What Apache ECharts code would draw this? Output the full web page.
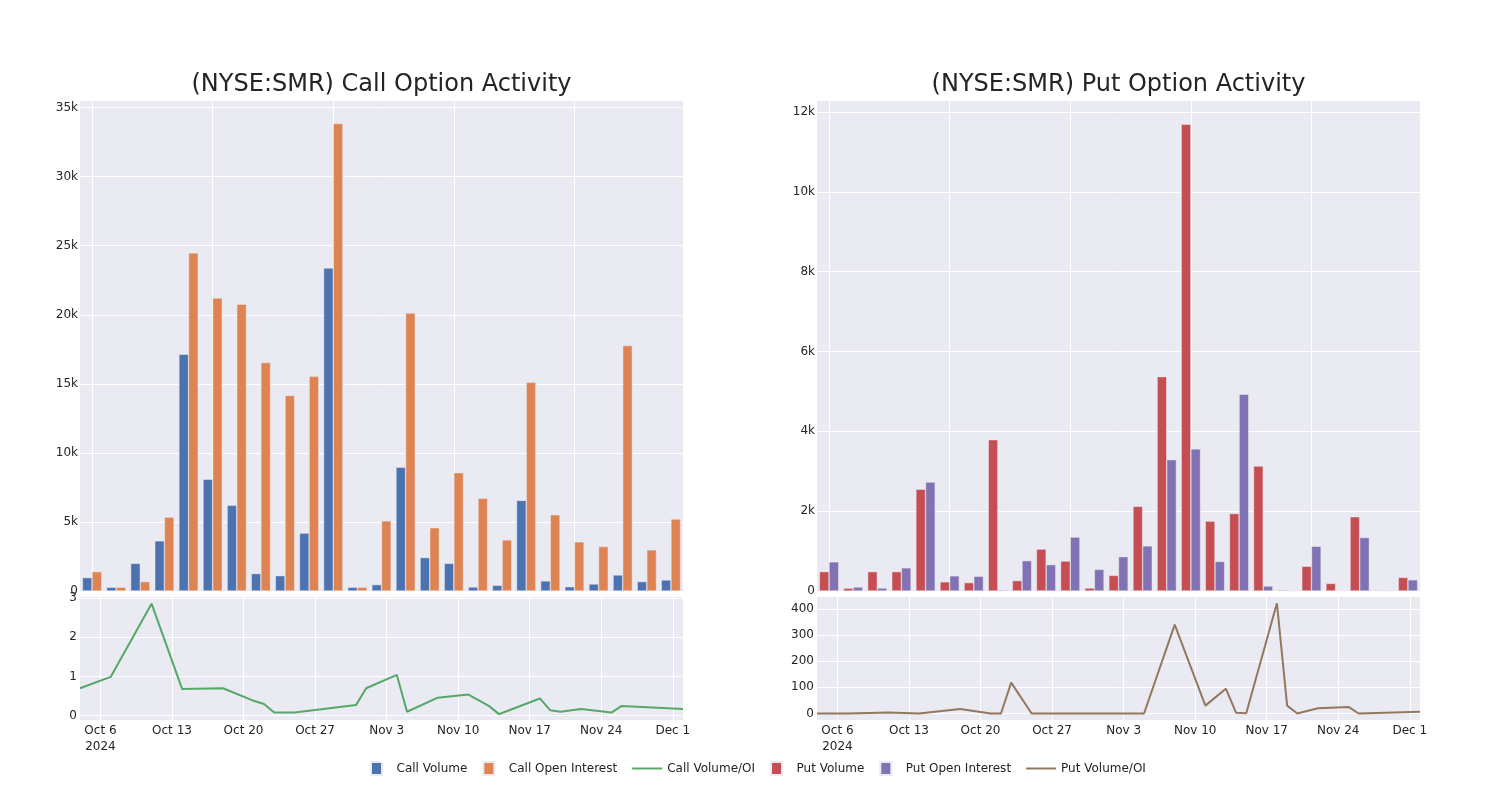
<!DOCTYPE html>
<html><head><meta charset="utf-8">
<script src="https://cdn.jsdelivr.net/npm/echarts@6/dist/echarts.min.js"></script>
<style>html,body{margin:0;padding:0;background:#fff}#c{width:1500px;height:800px}</style>
</head><body><div id="c"></div>
<script>
// ---- data ----
const dates = ['2024-10-04','2024-10-07','2024-10-11','2024-10-14','2024-10-18','2024-10-21','2024-10-22','2024-10-23','2024-10-25','2024-10-31','2024-11-01','2024-11-04','2024-11-05','2024-11-08','2024-11-11','2024-11-13','2024-11-14','2024-11-15','2024-11-18','2024-11-19','2024-11-20','2024-11-22','2024-11-25','2024-11-26','2024-12-02'];
const callVolume = [970,270,2000,3630,17140,8090,6200,1260,1110,4190,23390,270,460,8960,2420,2000,290,410,6560,730,310,510,1160,680,800];
const callOpenInterest = [1400,270,680,5350,24480,21210,20770,16540,14160,15540,33850,270,5080,20120,4580,8570,6710,3700,15110,5520,3560,3220,17770,2980,5210];
const callVolOI = [0.70,0.99,2.86,0.68,0.70,0.38,0.30,0.08,0.08,0.27,0.70,1.04,0.10,0.46,0.54,0.25,0.04,0.14,0.44,0.14,0.10,0.17,0.08,0.25,0.17];
const putVolume = [485,70,485,485,2550,230,210,3790,260,1050,750,75,390,2120,5370,11690,1750,1940,3130,25,620,190,1860,17,340];
const putOpenInterest = [730,100,75,580,2730,380,370,25,760,660,1350,540,860,1130,3290,3560,740,4930,125,0,1120,5,1340,15,280];
const putVolOI = [0,0,4,0,17,0,0,118,0,0,0,0,0,340,30,95,3,1,422,30,0,20,25,0,7];
const lineTickDates = ['2024-10-06','2024-10-13','2024-10-20','2024-10-27','2024-11-03','2024-11-10','2024-11-17','2024-11-24','2024-12-01'];
const callRatioTicks = [0,1,2,3];
const putRatioTicks = [0,100,200,300,400];

// ---- helpers ----
const MON = ['Jan','Feb','Mar','Apr','May','Jun','Jul','Aug','Sep','Oct','Nov','Dec'];
function ts(s){ const p = s.split('-').map(Number); return new Date(p[0], p[1]-1, p[2]).getTime(); }
const dayMs = 86400000;
const tMin = ts(dates[0]), tMax = ts(dates[dates.length-1]);
const tickTs = lineTickDates.map(ts);
function dateLabel(v){
  const d = new Date(v);
  const s = MON[d.getMonth()] + ' ' + d.getDate();
  return Math.abs(v - tickTs[0]) < dayMs/2 ? s + '\n' + d.getFullYear() : s;
}
function kFmt(v){ return v === 0 ? '0' : (v/1000) + 'k'; }

const FONT = 'DejaVu Sans';
const TXT = '#242424';
const BG = '#EAEAF2';
const C = {cv:'#4C72B0', co:'#DD8452', cr:'#55A868', pv:'#C44E52', po:'#8172B3', pr:'#937860'};

const L1 = 80, L2 = 817, W = 603;
const grids = [
  {left:L1, top:100, width:W, height:491},
  {left:L1, top:597, width:W, height:123},
  {left:L2, top:100, width:W, height:491},
  {left:L2, top:597, width:W, height:123}
].map(g => Object.assign(g, {show:true, backgroundColor:BG, borderWidth:0, containLabel:false}));

const gridLine = {show:true, lineStyle:{color:'#ffffff', width:1}};
const lbl = {color:TXT, fontFamily:FONT, fontSize:12};

function barX(gi){
  return {type:'category', gridIndex:gi, data:dates, boundaryGap:true,
    axisLine:{show:false}, axisLabel:{show:false},
    axisTick:{show:false, alignWithLabel:true, interval:4},
    splitLine:Object.assign({interval:4, alignWithLabel:true}, gridLine)};
}
function lineX(gi){
  return {type:'value', gridIndex:gi, min:tMin, max:tMax,
    axisLine:{show:false},
    axisTick:{show:false, customValues:tickTs},
    axisLabel:Object.assign({customValues:tickTs, formatter:dateLabel, margin:3, lineHeight:16, showMinLabel:true, showMaxLabel:true}, lbl),
    splitLine:gridLine};
}
function barY(gi, max, interval){
  return {type:'value', gridIndex:gi, min:0, max:max, interval:interval,
    axisLine:{show:false}, axisTick:{show:false},
    axisLabel:Object.assign({formatter:kFmt, margin:2, showMaxLabel:false}, lbl),
    splitLine:gridLine};
}
function lineY(gi, min, max, ticks){
  return {type:'value', gridIndex:gi, min:min, max:max,
    axisLine:{show:false},
    axisTick:{show:false, customValues:ticks},
    axisLabel:Object.assign({customValues:ticks, margin:3}, lbl),
    splitLine:gridLine};
}
function bars(name, data, color, xi, yi){
  return {name, type:'bar', xAxisIndex:xi, yAxisIndex:yi, data,
    barGap:'0%', barCategoryGap:'20%',
    itemStyle:{color, borderColor:BG, borderWidth:0.5}};
}
function line(name, vals, color, xi, yi){
  return {name, type:'line', xAxisIndex:xi, yAxisIndex:yi,
    data: dates.map((d,i)=>[ts(d), vals[i]]),
    showSymbol:false, symbol:'none', smooth:false,
    lineStyle:{color, width:2}, itemStyle:{color}};
}

const sq = 'path://M0,0H11V13H0Z';
const ln = 'path://M0,0H30V2H0Z';

const option = {
  animation:false,
  backgroundColor:'#ffffff',
  textStyle:{fontFamily:FONT},
  title:[
    {text:'(NYSE:SMR) Call Option Activity', left:L1+W/2, top:73, textAlign:'center', padding:0,
     textStyle:{fontSize:24, fontWeight:'normal', color:TXT, fontFamily:FONT}},
    {text:'(NYSE:SMR) Put Option Activity', left:L2+W/2, top:73, textAlign:'center', padding:0,
     textStyle:{fontSize:24, fontWeight:'normal', color:TXT, fontFamily:FONT}}
  ],
  legend:{
    left:370, top:761, padding:0, itemGap:15, itemWidth:30, itemHeight:13,
    textStyle:{color:TXT, fontFamily:FONT, fontSize:12},
    data:[
      {name:'Call Volume', icon:sq}, {name:'Call Open Interest', icon:sq}, {name:'Call Volume/OI', icon:ln},
      {name:'Put Volume', icon:sq}, {name:'Put Open Interest', icon:sq}, {name:'Put Volume/OI', icon:ln}
    ]
  },
  grid:grids,
  xAxis:[barX(0), lineX(1), barX(2), lineX(3)],
  yAxis:[barY(0, 35550, 5000), lineY(1, -0.11, 3.03, callRatioTicks), barY(2, 12300, 2000), lineY(3, -25, 446, putRatioTicks)],
  series:[
    bars('Call Volume', callVolume, C.cv, 0, 0),
    bars('Call Open Interest', callOpenInterest, C.co, 0, 0),
    line('Call Volume/OI', callVolOI, C.cr, 1, 1),
    bars('Put Volume', putVolume, C.pv, 2, 2),
    bars('Put Open Interest', putOpenInterest, C.po, 2, 2),
    line('Put Volume/OI', putVolOI, C.pr, 3, 3)
  ]
};
const chart = echarts.init(document.getElementById('c'), null, {renderer:'canvas'});
chart.setOption(option);
</script>
</body></html>
